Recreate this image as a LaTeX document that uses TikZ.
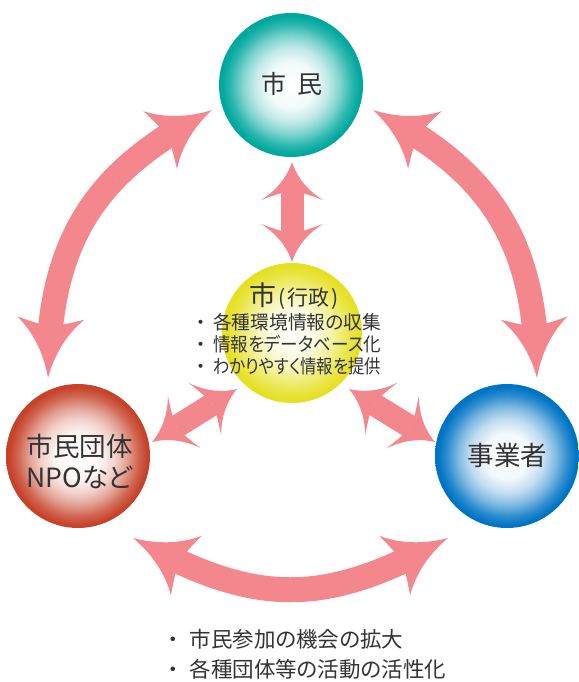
\documentclass[tikz,border=0pt]{standalone}
\usepackage{fontspec}
\setmainfont{Noto Sans CJK JP}[RawFeature=+palt]
\usetikzlibrary{arrows.meta,bending}

\definecolor{cTeal}{HTML}{00A89E}
\definecolor{cRed}{HTML}{C6432A}
\definecolor{cBlue}{HTML}{0074C4}
\definecolor{cYel}{HTML}{E6E024}
\definecolor{cPink}{HTML}{F3878D}
\definecolor{txt}{HTML}{333333}

\pgfdeclareradialshading{tealball}{\pgfpoint{0bp}{0bp}}{color(0bp)=(white); color(8bp)=(cTeal!5!white); color(13bp)=(cTeal!25!white); color(17bp)=(cTeal!50!white); color(21bp)=(cTeal!82!white); color(24bp)=(cTeal); color(50bp)=(cTeal)}
\pgfdeclareradialshading{redball}{\pgfpoint{0bp}{0bp}}{color(0bp)=(white); color(8bp)=(cRed!5!white); color(13bp)=(cRed!25!white); color(17bp)=(cRed!50!white); color(21bp)=(cRed!82!white); color(24bp)=(cRed); color(50bp)=(cRed)}
\pgfdeclareradialshading{blueball}{\pgfpoint{0bp}{0bp}}{color(0bp)=(white); color(8bp)=(cBlue!5!white); color(13bp)=(cBlue!25!white); color(17bp)=(cBlue!50!white); color(21bp)=(cBlue!82!white); color(24bp)=(cBlue); color(50bp)=(cBlue)}
\pgfdeclareradialshading{yelball}{\pgfpoint{0bp}{0bp}}{color(0bp)=(white); color(8bp)=(cYel!12!white); color(13bp)=(cYel!35!white); color(17bp)=(cYel!60!white); color(21bp)=(cYel!85!white); color(24bp)=(cYel); color(50bp)=(cYel)}

\pgfdeclarearrow{
  name = Petal,
  parameters = {\the\pgfarrowlength,\the\pgfarrowwidth,\the\pgfarrowinset},
  setup code = {
    \pgfarrowssettipend{\pgfarrowlength}
    \pgfarrowssetlineend{\pgfarrowinset}
    \pgfarrowssetvisualbackend{\pgfarrowinset}
    \pgfarrowssetbackend{0pt}
    \pgfarrowshullpoint{\pgfarrowlength}{0pt}
    \pgfarrowsupperhullpoint{0pt}{.5\pgfarrowwidth}
    \pgfarrowssavethe\pgfarrowlength
    \pgfarrowssavethe\pgfarrowwidth
    \pgfarrowssavethe\pgfarrowinset
  },
  drawing code = {
    \pgfpathmoveto{\pgfqpoint{\pgfarrowlength}{0pt}}
    \pgfpathcurveto{\pgfqpoint{.6\pgfarrowlength}{.08\pgfarrowwidth}}{\pgfqpoint{.25\pgfarrowlength}{.25\pgfarrowwidth}}{\pgfqpoint{0pt}{.5\pgfarrowwidth}}
    \pgfpathcurveto{\pgfqpoint{.5\pgfarrowinset}{.3\pgfarrowwidth}}{\pgfqpoint{.9\pgfarrowinset}{.15\pgfarrowwidth}}{\pgfqpoint{\pgfarrowinset}{0pt}}
    \pgfpathcurveto{\pgfqpoint{.9\pgfarrowinset}{-.15\pgfarrowwidth}}{\pgfqpoint{.5\pgfarrowinset}{-.3\pgfarrowwidth}}{\pgfqpoint{0pt}{-.5\pgfarrowwidth}}
    \pgfpathcurveto{\pgfqpoint{.25\pgfarrowlength}{-.25\pgfarrowwidth}}{\pgfqpoint{.6\pgfarrowlength}{-.08\pgfarrowwidth}}{\pgfqpoint{\pgfarrowlength}{0pt}}
    \pgfpathclose
    \pgfusepathqfill
  },
  defaults = {length=40pt, width=60pt, inset=10pt}
}

\tikzset{
  ball/.style={circle, minimum size=144pt, inner sep=0pt},
  midball/.style={circle, minimum size=140pt, inner sep=0pt},
  lbl/.style={text=txt, inner sep=0pt},
  bigarc/.style={draw=cPink, fill=none, line width=25pt, cPink,
    {Petal[length=60pt,width=67pt,inset=8pt]}-{Petal[length=60pt,width=67pt,inset=8pt]}},
  shortarr/.style={draw=cPink, line width=23pt, cPink,
    {Petal[length=38pt,width=62pt,inset=9pt]}-{Petal[length=38pt,width=62pt,inset=9pt]}}
}

\begin{document}
\begin{tikzpicture}[x=1pt,y=-1pt]
\useasboundingbox (0,0) rectangle (578,682);

% circles
\node[ball, shading=tealball] (citizen) at (291,85) {};
\node[ball, shading=redball] (npo) at (78,456) {};
\node[ball, shading=blueball] (biz) at (507,456) {};
\node[midball, shading=yelball] (city) at (292,333) {};

% labels
\node[lbl, anchor=base, font=\fontsize{25}{25}\selectfont] (tcit) at (292,94) {市\hspace{11pt}民};
\node[lbl, anchor=base, font=\fontsize{26.5}{26.5}\selectfont] (tnpo1) at (79.5,456) {市民団体};
\node[lbl, anchor=base, font=\fontsize{26.5}{26.5}\selectfont] (tnpo2) at (79.5,487) {NPOなど};
\node[lbl, anchor=base, font=\fontsize{26.5}{26.5}\selectfont] (tbiz) at (507.5,465) {事業者};
\node[lbl, anchor=base, font=\fontsize{27}{27}\selectfont] (tcity) at (294,305)
  {市\hspace{2pt}{\fontsize{21}{21}\selectfont(\hspace{2pt}行政\hspace{2pt})}};
\node[lbl, anchor=base west, font=\fontsize{19}{19}\selectfont] (c1) at (196,329.5) {\makebox[17pt][l]{・}\resizebox{168pt}{\height}{各種環境情報の収集}};
\node[lbl, anchor=base west, font=\fontsize{19}{19}\selectfont] (c2) at (196,351.5) {\makebox[17pt][l]{・}\resizebox{168pt}{\height}{情報をデータベース化}};
\node[lbl, anchor=base west, font=\fontsize{19}{19}\selectfont] (c3) at (196,373.5) {\makebox[17pt][l]{・}\resizebox{168pt}{\height}{わかりやすく情報を提供}};
\node[lbl, anchor=base west, font=\fontsize{21.5}{21.5}\selectfont] (b1) at (168,647) {\makebox[21.5pt][l]{・}市民参加の機会の拡大};
\node[lbl, anchor=base west, font=\fontsize{21.5}{21.5}\selectfont] (b2) at (168,677) {\makebox[21.5pt][l]{・}各種団体等の活動の活性化};

% arrow end points
\coordinate (tlA) at (48,378);
\coordinate (tlB) at (212,110);
\coordinate (trA) at (537,378);
\coordinate (trB) at (373,110);
\coordinate (btA) at (133,538);
\coordinate (btB) at (448,538);
\coordinate (vA) at (292,162);
\coordinate (vB) at (292,262);
\coordinate (dlA) at (237,389);
\coordinate (dlB) at (152,442);
\coordinate (drA) at (349,389);
\coordinate (drB) at (435,442);

% arrows
\draw[bigarc] (tlA) .. controls (48,228) and (106,166) .. (tlB);
\draw[bigarc] (trA) .. controls (537,228) and (479,166) .. (trB);
\draw[bigarc] (btA) .. controls (256,607) and (325,607) .. (btB);
\draw[shortarr] (vA) -- (vB);
\draw[shortarr] (dlA) -- (dlB);
\draw[shortarr] (drA) -- (drB);
\end{tikzpicture}
\end{document}
